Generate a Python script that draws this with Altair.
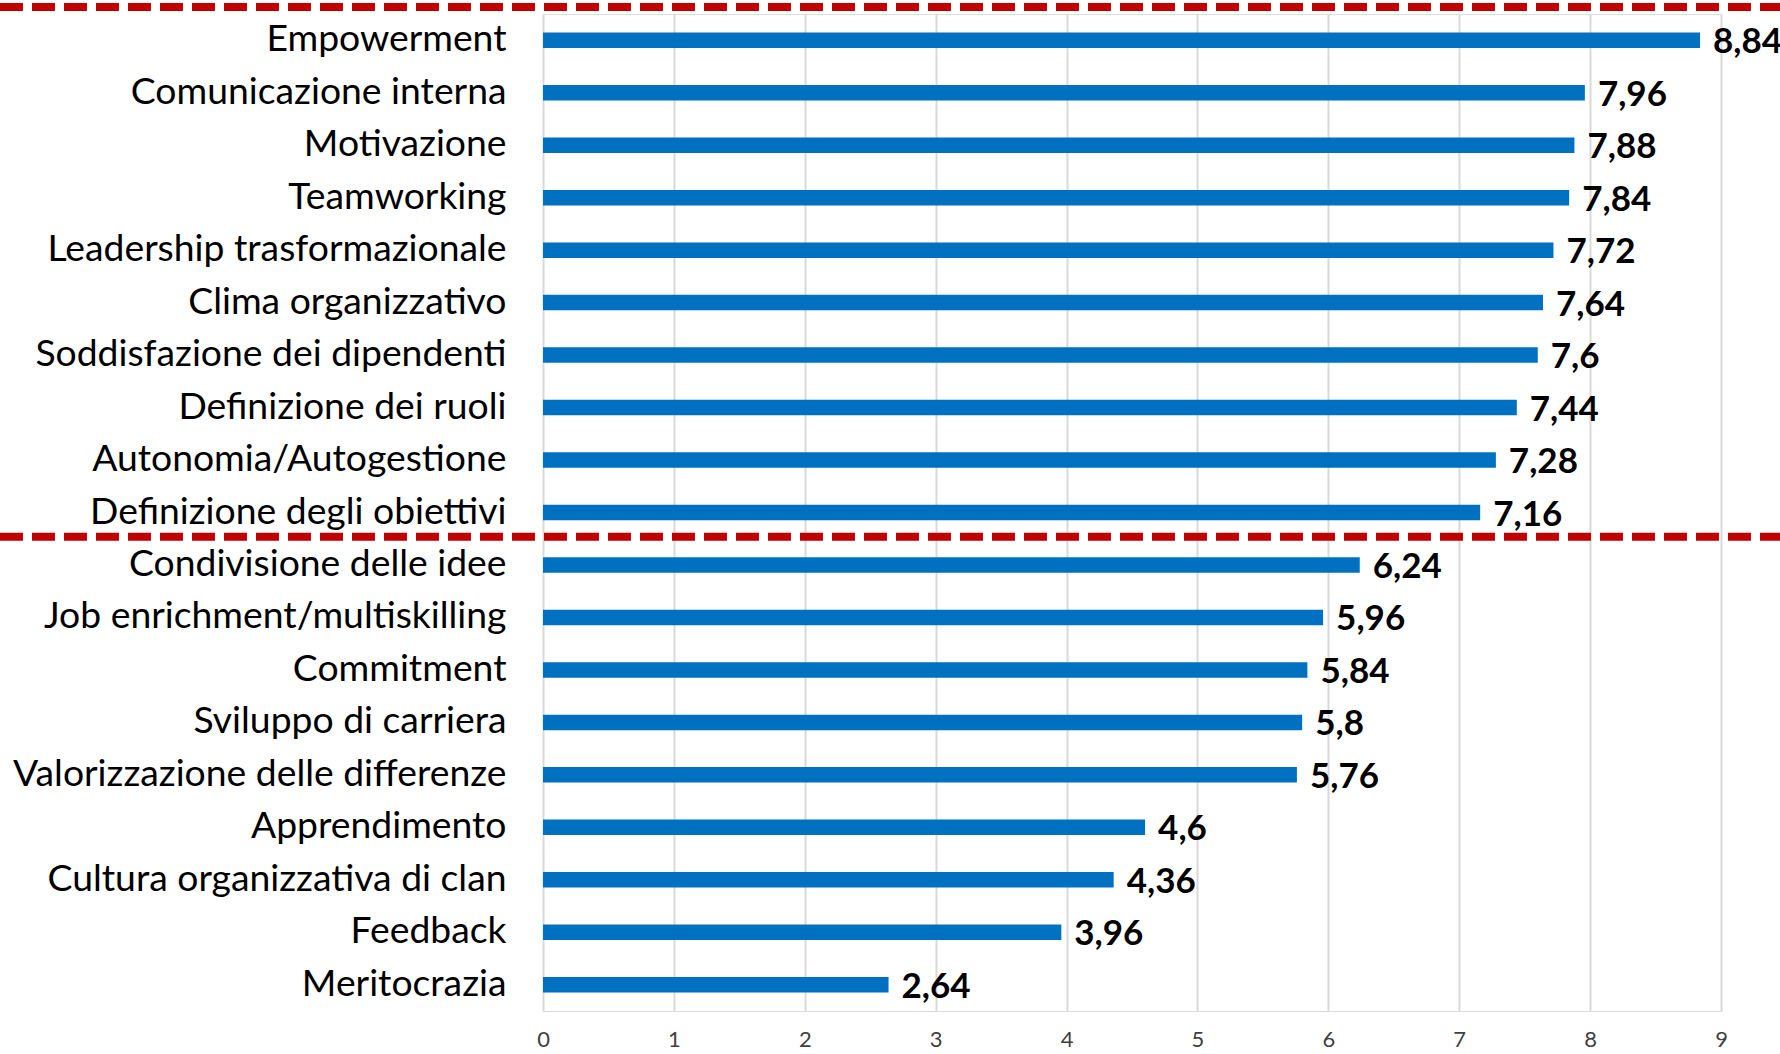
import altair as alt
import pandas as pd

categories = [
    "Empowerment", "Comunicazione interna", "Motivazione", "Teamworking",
    "Leadership trasformazionale", "Clima organizzativo",
    "Soddisfazione dei dipendenti", "Definizione dei ruoli",
    "Autonomia/Autogestione", "Definizione degli obiettivi",
    "Condivisione delle idee", "Job enrichment/multiskilling", "Commitment",
    "Sviluppo di carriera", "Valorizzazione delle differenze",
    "Apprendimento", "Cultura organizzativa di clan", "Feedback", "Meritocrazia",
]
values = [8.84, 7.96, 7.88, 7.84, 7.72, 7.64, 7.6, 7.44, 7.28, 7.16,
          6.24, 5.96, 5.84, 5.8, 5.76, 4.6, 4.36, 3.96, 2.64]
x_ticks = [0, 1, 2, 3, 4, 5, 6, 7, 8, 9]
separator_top = ["Empowerment"]
separator_mid = ["Condivisione delle idee"]

df = pd.DataFrame({
    "cat": categories,
    "val": values,
    "label": [f"{v:g}".replace(".", ",") for v in values],
})
df_top = pd.DataFrame({"cat": separator_top})
df_mid = pd.DataFrame({"cat": separator_mid})

W, H = 1178, 997
LEFT, TOP = 543, 14

yscale = alt.Scale(domain=categories, paddingInner=0, paddingOuter=0)
y_enc = alt.Y("cat:N", sort=categories, scale=yscale, title=None,
              axis=alt.Axis(labelFont="Lato", labelFontSize=37.3,
                            labelColor="#000000", labelPadding=37,
                            labelLimit=700, ticks=False, domain=False,
                            grid=False))
x_enc = alt.X("val:Q", scale=alt.Scale(domain=[0, 9], nice=False), title=None,
              axis=alt.Axis(values=x_ticks, format="d", grid=True,
                            gridColor="#D9D9D9", gridWidth=2, domain=False,
                            ticks=False, labelFont="Lato", labelFontSize=22,
                            labelColor="#404040", labelPadding=18,
                            labelFlush=False, labelBound=False))

bars = alt.Chart(df).mark_bar(size=15.5, color="#0070C0").encode(
    x=x_enc, y=y_enc)

texts = alt.Chart(df).mark_text(
    align="left", baseline="middle", dx=13, dy=2, font="Lato",
    fontSize=35, fontWeight="bold", color="#000000").encode(
    x="val:Q", y=alt.Y("cat:N", sort=categories), text="label:N")

def sep(d, off):
    return alt.Chart(d).mark_rule(
        color="#C00000", strokeWidth=8, strokeDash=[23, 9], yOffset=off,
        strokeCap="butt").encode(
        y=alt.Y("cat:N", sort=categories, bandPosition=0),
        x=alt.value(-LEFT), x2=alt.value(W + 70))

chart = alt.layer(bars, texts, sep(df_top, -7), sep(df_mid, -2)).properties(
    width=W, height=H,
    padding={"left": LEFT, "top": TOP, "right": 1780 - LEFT - W, "bottom": 1054 - TOP - H},
    autosize=alt.AutoSizeParams(type="none"),
).configure_view(stroke=None).configure(background="white")

chart.save("out.html", embed_options={"renderer": "svg", "actions": False})
